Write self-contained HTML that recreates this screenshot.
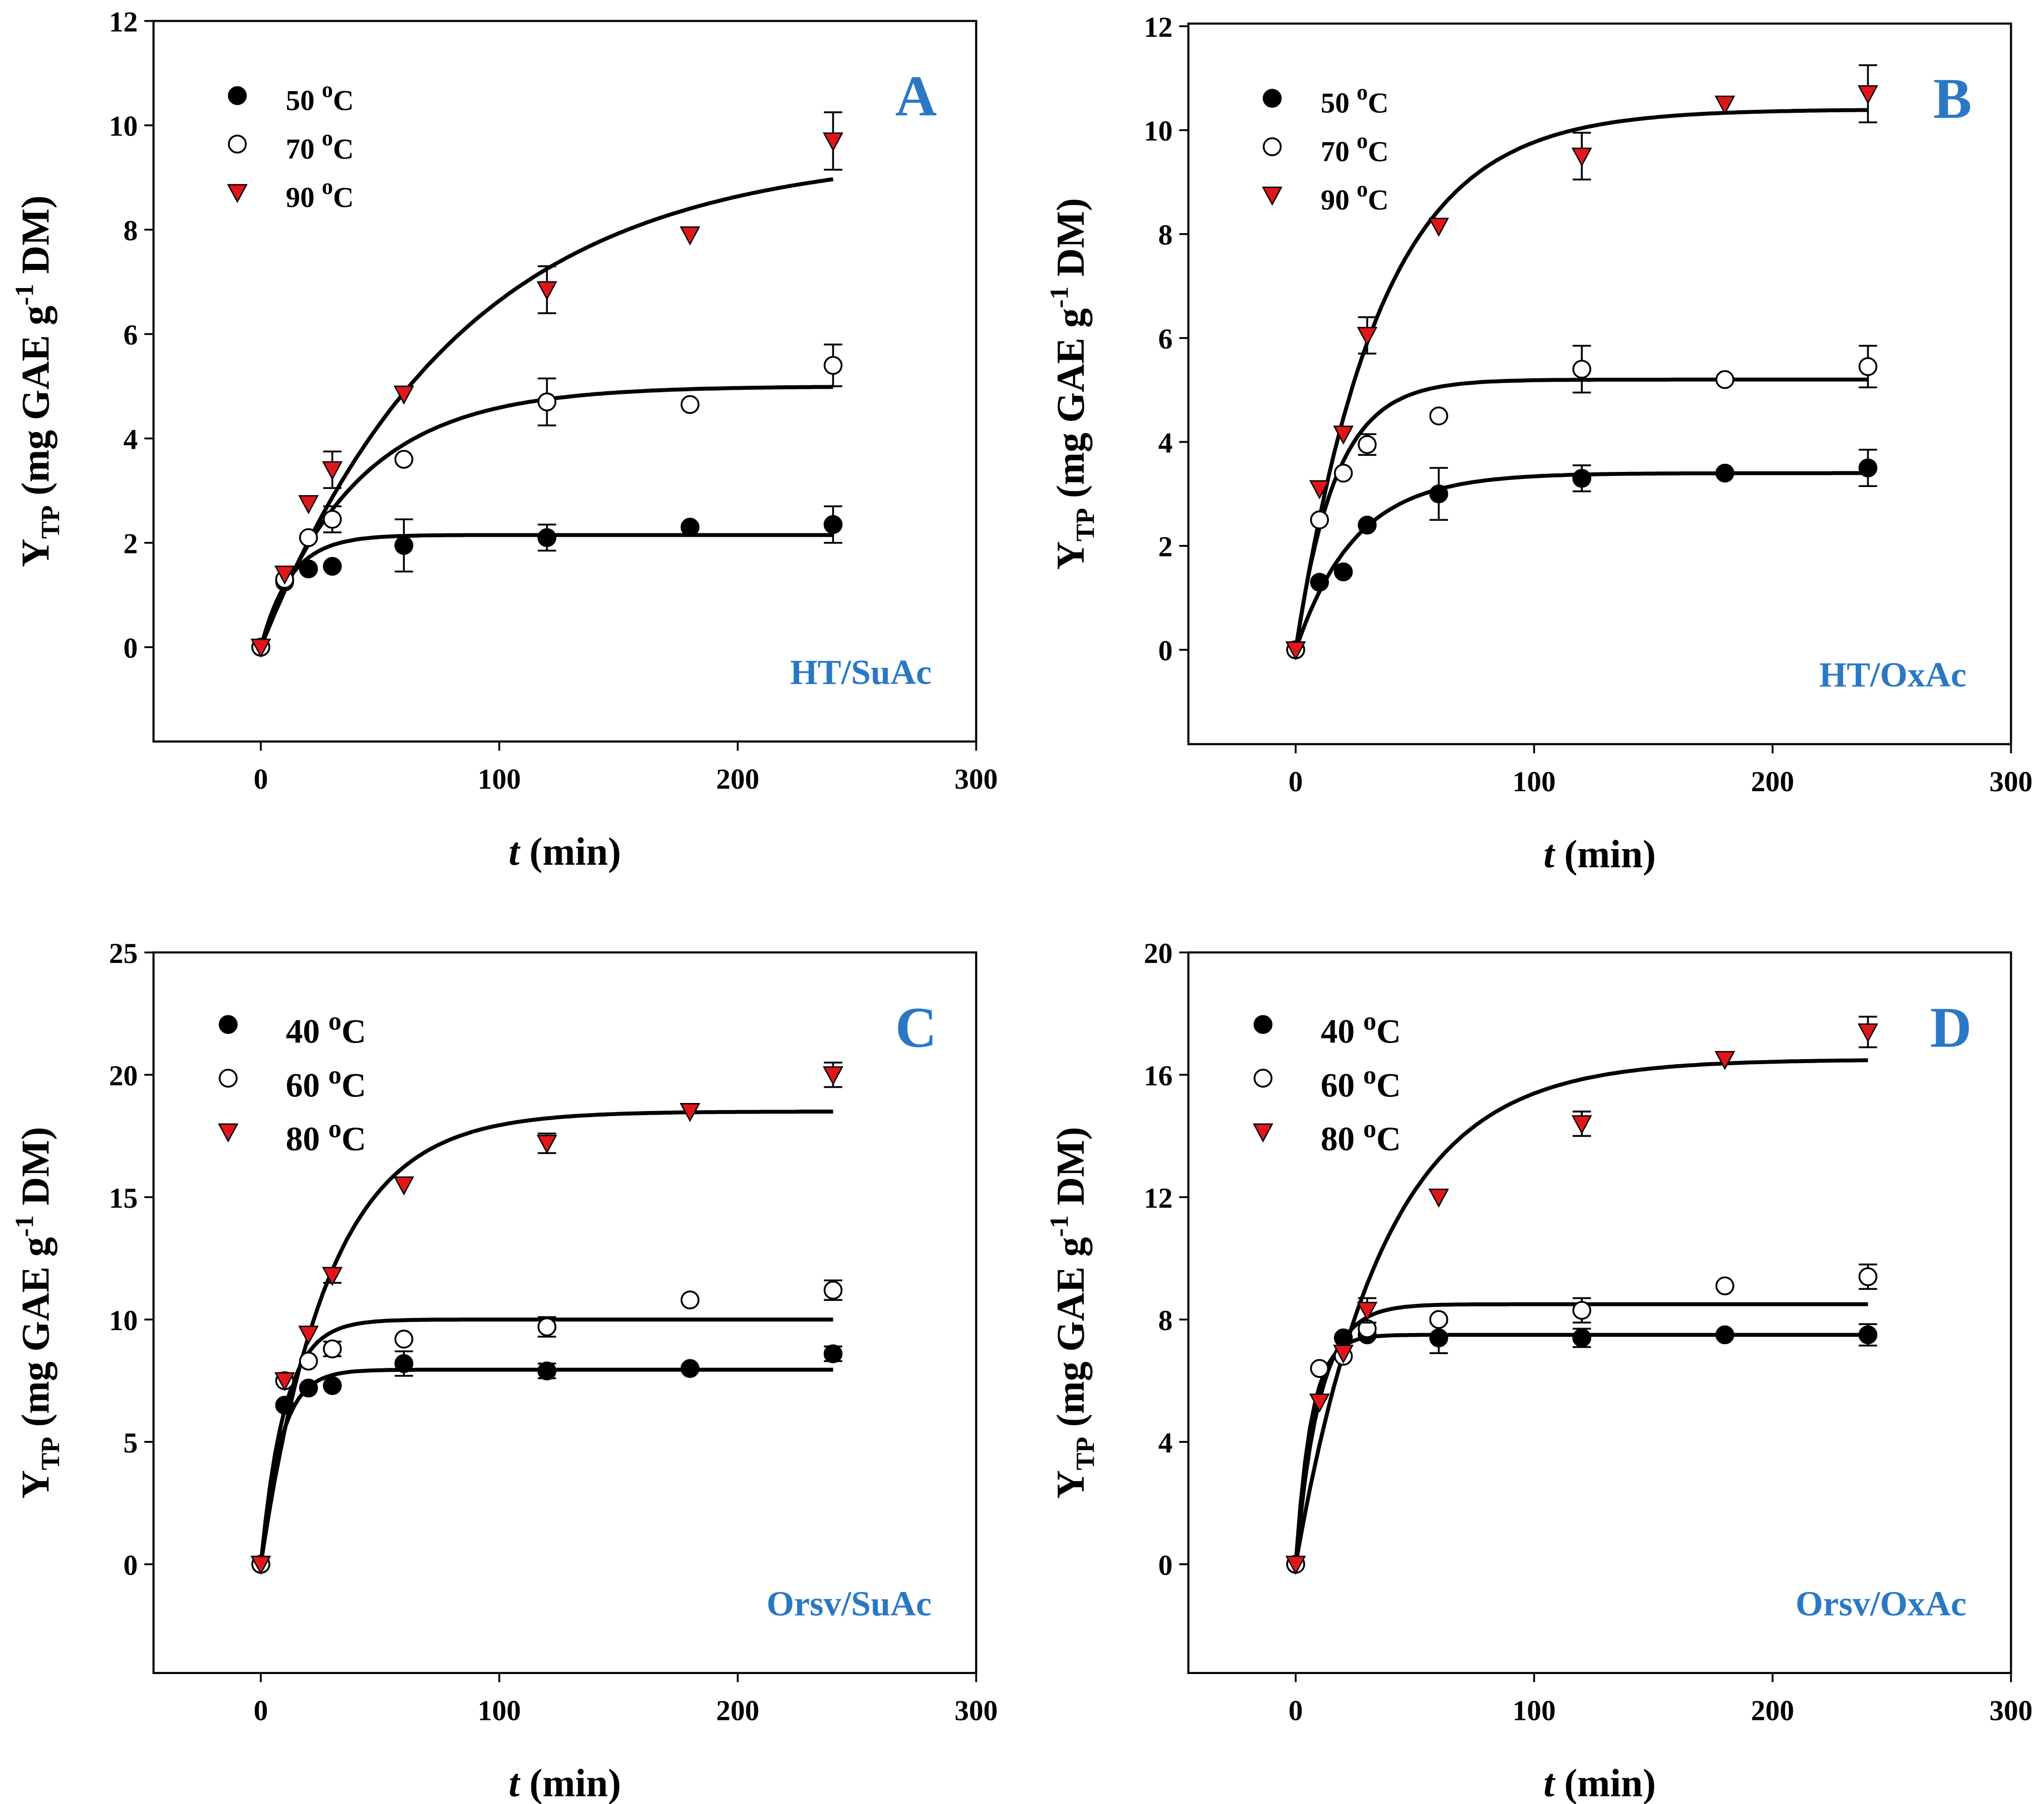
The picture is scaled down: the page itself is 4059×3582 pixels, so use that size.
<!DOCTYPE html>
<html><head><meta charset="utf-8"><style>
html,body{margin:0;padding:0;background:#fff}
svg{display:block}
text{font-family:"Liberation Serif",serif;font-weight:bold}
</style></head><body>
<svg id="chart" width="4059" height="3582" viewBox="0 0 1560 1377" xmlns="http://www.w3.org/2000/svg"></svg>
<script>
// ---- data ----
const times = [0,10,20,30,60,120,180,240];
const panelLetters = ["A","B","C","D"];
const panelTitles = ["HT/SuAc","HT/OxAc","Orsv/SuAc","Orsv/OxAc"];
const legendLabels = [["50","70","90"],["50","70","90"],["40","60","80"],["40","60","80"]];
const yTicksA = [0,2,4,6,8,10,12];
const yTicksB = [0,2,4,6,8,10,12];
const yTicksC = [0,5,10,15,20,25];
const yTicksD = [0,4,8,12,16,20];
const xTicks = [0,100,200,300];
// series values [low, mid, high temperature]
const valsA = [[0,1.25,1.5,1.55,1.95,2.1,2.3,2.35],[0,1.3,2.1,2.45,3.6,4.7,4.65,5.4],[0,1.4,2.75,3.4,4.85,6.85,7.9,9.7]];
const errsA = [[0,0,0,0,0.5,0.25,0,0.35],[0,0,0,0.25,0,0.45,0,0.4],[0,0,0,0.35,0,0.45,0,0.55]];
const valsB = [[0,1.3,1.5,2.4,3.0,3.3,3.4,3.5],[0,2.5,3.4,3.95,4.5,5.4,5.2,5.45],[0,3.1,4.15,6.05,8.15,9.5,10.5,10.7]];
const errsB = [[0,0,0,0,0.5,0.25,0,0.35],[0,0,0,0.2,0,0.45,0,0.4],[0,0,0,0.35,0,0.45,0,0.55]];
const valsC = [[0,6.5,7.2,7.3,8.2,7.9,8.0,8.6],[0,7.5,8.3,8.8,9.2,9.7,10.8,11.2],[0,7.5,9.4,11.8,15.5,17.2,18.5,20.0]];
const errsC = [[0,0,0,0,0.5,0.3,0,0.3],[0,0,0,0.3,0,0.4,0,0.4],[0,0,0,0.3,0,0.4,0,0.5]];
const valsD = [[0,6.4,7.4,7.5,7.4,7.4,7.5,7.5],[0,6.4,6.8,7.7,8.0,8.3,9.1,9.4],[0,5.3,6.9,8.3,12.0,14.4,16.5,17.4]];
const errsD = [[0,0,0,0,0.5,0.3,0,0.35],[0,0,0,0,0,0.4,0,0.4],[0,0,0,0.4,0,0.4,0,0.5]];
// first-order fit parameters: plateau and rate
const fitA = [[2.15,0.08],[5.0,0.025],[9.5,0.012]];
const fitB = [[3.4,0.04],[5.2,0.06],[10.4,0.028]];
const fitC = [[7.95,0.12],[10.0,0.1],[18.5,0.035]];
const fitD = [[7.5,0.15],[8.5,0.1],[16.5,0.027]];

const NS="http://www.w3.org/2000/svg";
const svg=document.getElementById('chart');
function el(tag,attrs,parent){const e=document.createElementNS(NS,tag);for(const k in attrs)e.setAttribute(k,attrs[k]);(parent||svg).appendChild(e);return e;}

const layouts=[
 {x0:117,x1:745,yTop:16,yBot:566,yZero:494,yMaxPix:16,yMax:12,ticks:yTicksA,vals:valsA,errs:errsA,fit:fitA,big:false},
 {x0:907,x1:1535,yTop:18,yBot:568,yZero:496,yMaxPix:20,yMax:12,ticks:yTicksB,vals:valsB,errs:errsB,fit:fitB,big:false},
 {x0:117,x1:745,yTop:727,yBot:1277,yZero:1194,yMaxPix:727,yMax:25,ticks:yTicksC,vals:valsC,errs:errsC,fit:fitC,big:true},
 {x0:907,x1:1535,yTop:727,yBot:1277,yZero:1194,yMaxPix:727,yMax:20,ticks:yTicksD,vals:valsD,errs:errsD,fit:fitD,big:true}
];

layouts.forEach((L,p)=>{
  const g=el('g',{});
  
  
  const sx=v=>L.x0+(v+45)*(L.x1-L.x0)/345;
  const sy=v=>L.yZero-v*(L.yZero-L.yMaxPix)/L.yMax;
  const box=el('rect',{x:L.x0,y:L.yTop,width:L.x1-L.x0,height:L.yBot-L.yTop,fill:'none',stroke:'#000','stroke-width':1.6},g);
  
  
  xTicks.forEach(t=>{
    el('line',{x1:sx(t),x2:sx(t),y1:L.yBot,y2:L.yBot+7,stroke:'#000','stroke-width':1.4},g);
    const tx=el('text',{x:sx(t),y:L.yBot+36,'text-anchor':'middle','font-size':22},g);
    tx.textContent=t;
    
    
  });
  L.ticks.forEach(t=>{
    el('line',{x1:L.x0-7,x2:L.x0,y1:sy(t),y2:sy(t),stroke:'#000','stroke-width':1.4},g);
    const tx=el('text',{x:L.x0-12,y:sy(t)+8,'text-anchor':'end','font-size':22},g);
    tx.textContent=t;
    
    
  });
  // x title
  const xt=el('text',{x:(L.x0+L.x1)/2,y:L.yBot+94,'text-anchor':'middle','font-size':30},g);
  xt.innerHTML='<tspan font-style="italic">t</tspan> (min)';
  
  
  // y title
  const cy=(L.yTop+L.yBot)/2, cx=L.x0-80;
  const yt=el('text',{x:cx,y:cy,'text-anchor':'middle','font-size':30,transform:`rotate(-90 ${cx} ${cy})`},g);
  yt.innerHTML='Y<tspan font-size="20" dy="8">TP</tspan><tspan dy="-8"> (mg GAE g</tspan><tspan font-size="20" dy="-12">-1</tspan><tspan dy="12"> DM)</tspan>';
  
  
  // letter & title
  const lt=el('text',{x:L.x1-30,y:L.yTop+72,'text-anchor':'end','font-size':44,fill:'#2a78c4'},g);
  lt.textContent=panelLetters[p];
  
  
  const st=el('text',{x:L.x1-34,y:L.yBot-44,'text-anchor':'end','font-size':27,fill:'#2a78c4'},g);
  st.textContent=panelTitles[p];
  
  

  function marker(s,x,y,parent){
    if(s===2){
      const m=el('path',{d:`M${x-7},${y-6} L${x+7},${y-6} L${x},${y+7} Z`,fill:'#e0161b',stroke:'#000','stroke-width':1},parent);return m;
    }
    return el('circle',{cx:x,cy:y,r:6.5,fill:s===0?'#000':'#fff',stroke:'#000','stroke-width':1.4},parent);
  }
  // fits
  for(let s=0;s<3;s++){
    const [A,k]=L.fit[s];let d='';
    for(let t=0;t<=240;t+=2){d+=(t?'L':'M')+sx(t).toFixed(1)+','+sy(A*(1-Math.exp(-k*t))).toFixed(1);}
    const pth=el('path',{d,fill:'none',stroke:'#000','stroke-width':3},g);
    
    
  }
  // points
  for(let s=0;s<3;s++){
    times.forEach((t,i)=>{
      const v=L.vals[s][i],e=L.errs[s][i];
      if(e>0){
        const x=sx(t);
        el('path',{d:`M${x},${sy(v-e)}L${x},${sy(v+e)}M${x-7},${sy(v-e)}L${x+7},${sy(v-e)}M${x-7},${sy(v+e)}L${x+7},${sy(v+e)}`,stroke:'#000','stroke-width':1.4,fill:'none'},g);
      }
      const m=marker(s,sx(t),sy(v),g);
      
      
    });
  }
  // legend
  const lx=L.x0+(L.big?57:64), ly=L.yTop+(L.big?55:57), dy=L.big?41:37;
  for(let s=0;s<3;s++){
    const lg=el('g',{},g);
    
    
    marker(s,lx,ly+s*dy,lg);
    const tx=el('text',{x:lx+(L.big?44:37),y:ly+s*dy+(L.big?14:11),'font-size':L.big?26:22},lg);
    tx.innerHTML=legendLabels[p][s]+' <tspan font-size="'+(L.big?20:17)+'" dy="-10">o</tspan><tspan dy="10">C</tspan>';
  }
});
</script>
</body></html>
